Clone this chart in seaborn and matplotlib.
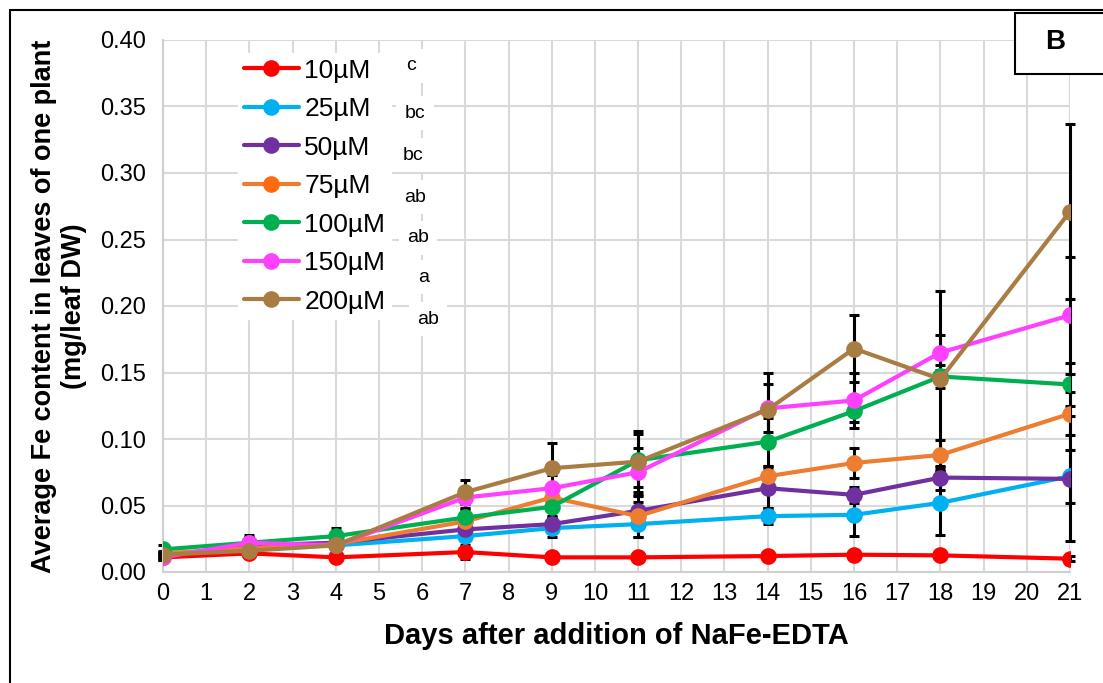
import numpy as np
import pandas as pd
import matplotlib
matplotlib.use("Agg")
import matplotlib.pyplot as plt
from matplotlib.patches import Rectangle
import seaborn as sns

days = [0, 2, 4, 7, 9, 11, 14, 16, 18, 21]
conc_labels = ["10µM", "25µM", "50µM", "75µM", "100µM", "150µM", "200µM"]
sig_letters = ["c", "bc", "bc", "ab", "ab", "a", "ab"]
colors = ["#FF0000", "#00B0F0", "#7030A0", "#FF6A10", "#00B050", "#FF40FF", "#A97C44"]
line_colors = ["#FF0000", "#00B0F0", "#7030A0", "#ED7D31", "#00B050", "#FF40FF", "#A97C44"]

fe_10 = [0.011, 0.014, 0.011, 0.015, 0.011, 0.011, 0.012, 0.013, 0.0125, 0.010]
fe_25 = [0.013, 0.018, 0.020, 0.027, 0.033, 0.036, 0.042, 0.043, 0.052, 0.072]
fe_50 = [0.012, 0.020, 0.022, 0.032, 0.036, 0.046, 0.063, 0.058, 0.071, 0.070]
fe_75 = [0.014, 0.018, 0.021, 0.038, 0.056, 0.042, 0.072, 0.082, 0.088, 0.119]
fe_100 = [0.017, 0.022, 0.027, 0.041, 0.049, 0.084, 0.098, 0.121, 0.147, 0.141]
fe_150 = [0.011, 0.022, 0.020, 0.056, 0.063, 0.075, 0.123, 0.129, 0.165, 0.193]
fe_200 = [0.013, 0.016, 0.020, 0.060, 0.078, 0.083, 0.122, 0.168, 0.145, 0.271]

err_10 = [0.002, 0.003, 0.002, 0.005, 0.002, 0.002, 0.002, 0.002, 0.002, 0.002]
err_25 = [0.002, 0.003, 0.003, 0.004, 0.007, 0.010, 0.006, 0.016, 0.024, 0.020]
err_50 = [0.002, 0.004, 0.004, 0.005, 0.006, 0.007, 0.015, 0.006, 0.009, 0.047]
err_75 = [0.002, 0.003, 0.004, 0.005, 0.008, 0.016, 0.008, 0.011, 0.011, 0.016]
err_100 = [0.003, 0.004, 0.006, 0.006, 0.008, 0.020, 0.018, 0.008, 0.009, 0.016]
err_150 = [0.002, 0.006, 0.004, 0.008, 0.010, 0.018, 0.018, 0.021, 0.013, 0.044]
err_200 = [0.002, 0.004, 0.005, 0.009, 0.019, 0.023, 0.028, 0.025, 0.066, 0.066]

all_fe = [fe_10, fe_25, fe_50, fe_75, fe_100, fe_150, fe_200]
all_err = [err_10, err_25, err_50, err_75, err_100, err_150, err_200]

rows = []
for lab, vals in zip(conc_labels, all_fe):
    for d, v in zip(days, vals):
        rows.append({"day": d, "fe": v, "conc": lab})
df = pd.DataFrame(rows)

sns.set_theme(style="whitegrid")
plt.rcParams["font.family"] = ["Liberation Sans", "DejaVu Sans"]
plt.rcParams["text.color"] = "black"
plt.rcParams["axes.labelcolor"] = "black"

fig = plt.figure(figsize=(11.03, 6.83), dpi=100)
ax = fig.add_axes([163 / 1103, 1 - 572 / 683, (1070 - 163) / 1103, (572 - 40) / 683])

# error bars behind the lines
for vals, errs in zip(all_fe, all_err):
    eb = ax.errorbar(days, vals, yerr=errs, fmt="none", ecolor="black",
                     elinewidth=2.2, capsize=3.3, capthick=2.2, zorder=2)
    for art in eb.lines[1] + eb.lines[2]:
        art.set_clip_on(False)

sns.lineplot(data=df, x="day", y="fe", hue="conc", hue_order=conc_labels,
             palette=dict(zip(conc_labels, line_colors)), linewidth=3,
             marker="o", markersize=12, markeredgewidth=0, ax=ax, zorder=3)

# marker colours slightly differ from line colours (orange)
for line, mc in zip(ax.lines[-len(conc_labels):], colors):
    line.set_markerfacecolor(mc)
    line.set_clip_on(False)

ax.set_xlim(0, 21)
ax.set_ylim(0, 0.40)
ax.set_xticks(range(0, 22))
ax.set_yticks(np.arange(0, 0.401, 0.05))
ax.set_yticklabels([f"{t:.2f}" for t in np.arange(0, 0.401, 0.05)])
ax.tick_params(axis="y", labelsize=17, colors="black", labelcolor="black", length=0, pad=12)
ax.tick_params(axis="x", labelsize=17, colors="black", labelcolor="black", length=0, pad=8)
ax.grid(True, color="#d9d9d9", linewidth=1.5)
for side in ["top", "right"]:
    ax.spines[side].set_visible(False)
for side in ["left", "bottom"]:
    ax.spines[side].set_color("#d0d0d0")
    ax.spines[side].set_linewidth(1.5)

ax.set_xlabel("Days after addition of NaFe-EDTA", fontsize=21, fontweight="bold",
              labelpad=12, color="black")
ax.set_ylabel("Average Fe content in leaves of one plant\n(mg/leaf DW)", fontsize=19.5,
              fontweight="bold", labelpad=10, color="black")

handles, labels = ax.get_legend_handles_labels()
for h, mc in zip(handles, colors):
    h.set_markerfacecolor(mc)
leg = ax.legend(handles, labels, loc="upper left", bbox_to_anchor=(0.083, 0.975),
                fontsize=19, frameon=True, facecolor="white", edgecolor="white",
                framealpha=1, labelspacing=0.55, handlelength=2.1, handletextpad=0.2,
                borderpad=0.2, borderaxespad=0, labelcolor="black")
leg.set_zorder(5)

# significance letters next to the legend entries
letter_px = [(411, 66), (415, 113), (413, 155), (415, 197), (418, 238), (424, 277), (428, 319)]
for (px, py), letter in zip(letter_px, sig_letters):
    ax.text((px - 163) / 907, (572 - py) / 532, letter, transform=ax.transAxes,
            fontsize=14, ha="center", va="center", zorder=6, color="black",
            bbox=dict(facecolor="white", edgecolor="none", pad=6))

# panel label box
fig.patches.append(Rectangle((1015 / 1103, 1 - 74 / 683), 100 / 1103, 61 / 683,
                             transform=fig.transFigure, facecolor="white",
                             edgecolor="black", linewidth=1.5, zorder=10))
fig.text(1055 / 1103, 1 - 42 / 683, "B", fontsize=20, fontweight="bold",
         ha="center", va="center", zorder=11, color="black")

# chart border
fig.patches.append(Rectangle((10 / 1103, -0.1), 1.2, 1.1 - 10 / 683,
                             transform=fig.transFigure, facecolor="none",
                             edgecolor="black", linewidth=1.5, zorder=9))

fig.savefig("out.png", dpi=100)
